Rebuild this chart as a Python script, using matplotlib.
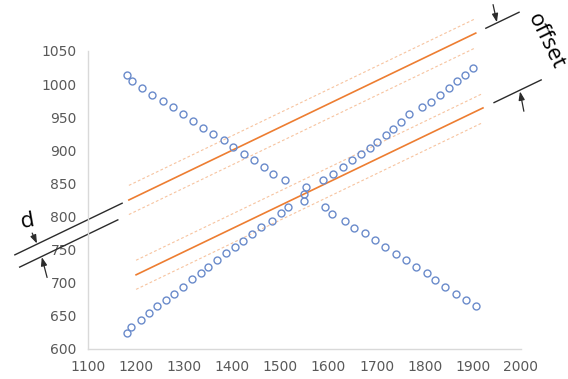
import matplotlib
matplotlib.use('Agg')
from matplotlib import pyplot as plt

# scatter: falling and rising runs
fall_x = [1181, 1192, 1212, 1233, 1256, 1277, 1297, 1318, 1339, 1360, 1383, 1401, 1424, 1445,
          1466, 1485, 1510, 1549, 1593, 1607, 1634, 1653, 1676, 1697, 1717, 1740, 1761, 1782,
          1805, 1821, 1842, 1865, 1886, 1907]
fall_y = [1014, 1005, 994, 984, 975, 965, 955, 944, 934, 925, 916, 905, 895, 885,
          875, 864, 855, 834, 815, 804, 793, 783, 775, 765, 754, 744, 734, 724,
          715, 704, 694, 683, 674, 665]

rise_x = [1181, 1189, 1210, 1227, 1243, 1262, 1279, 1298, 1316, 1335, 1350, 1368, 1387, 1406,
          1422, 1441, 1460, 1483, 1501, 1516, 1549, 1553, 1588, 1609, 1630, 1649, 1667, 1686,
          1701, 1719, 1734, 1751, 1767, 1794, 1813, 1832, 1850, 1867, 1884, 1900]
rise_y = [624, 633, 644, 654, 665, 674, 683, 694, 706, 715, 724, 734, 745, 754,
          763, 774, 784, 793, 805, 815, 824, 845, 855, 864, 875, 885, 895, 904,
          913, 923, 932, 943, 955, 965, 973, 984, 994, 1005, 1014, 1024]

# two bands: centre line end points and half width
upper_x = [1185, 1906]
upper_y = [825, 1077]
lower_x = [1200, 1921]
lower_y = [712, 964]
half_width = 22

x_ticks = [1100, 1200, 1300, 1400, 1500, 1600, 1700, 1800, 1900, 2000]
y_ticks = [600, 650, 700, 750, 800, 850, 900, 950, 1000, 1050]

slope = (upper_y[1] - upper_y[0]) / (upper_x[1] - upper_x[0])


def on_line(x, x0, y0, shift=0):
    return y0 + (x - x0) * slope + shift


fig = plt.figure(figsize=(5.68, 3.79), dpi=100)
ax = fig.add_axes([0.1549, 0.0792, 0.7623, 0.7863])

orange = '#ed7d31'
light = '#f7c4a0'
for bx, by in [(upper_x, upper_y), (lower_x, lower_y)]:
    ax.plot(bx, by, color=orange, lw=1.2, clip_on=False, zorder=2)
    for s in (half_width, -half_width):
        ax.plot(bx, [v + s for v in by], color=light, lw=0.8, ls=(0, (2.5, 2)),
                clip_on=False, zorder=2)

ax.plot(fall_x, fall_y, 'o', ms=5, mfc='none', mec='#6a8bcb', mew=1.0, zorder=3)
ax.plot(rise_x, rise_y, 'o', ms=5, mfc='none', mec='#6a8bcb', mew=1.0, zorder=3)

# dimension marks: d (band width) on the left, offset on the right
black = '#2b2b2b'
dx = [948, 1171]
ax.plot(dx, [on_line(v, upper_x[0], upper_y[0]) for v in dx], color=black, lw=1.0, clip_on=False)
dx2 = [958, 1162]
ax.plot(dx2, [on_line(v, upper_x[0], upper_y[0], -half_width) for v in dx2],
        color=black, lw=1.0, clip_on=False)
ox = [1927, 1996]
ax.plot(ox, [on_line(v, upper_x[0], upper_y[0]) for v in ox], color=black, lw=1.0, clip_on=False)
ox2 = [1944, 2042]
ax.plot(ox2, [on_line(v, lower_x[0], lower_y[0]) for v in ox2], color=black, lw=1.0, clip_on=False)

arrow = dict(arrowstyle='-|>,head_length=0.5,head_width=0.18', color=black, lw=0.9,
             shrinkA=0, shrinkB=0)
ax.annotate('', xy=(994, on_line(994, upper_x[0], upper_y[0]) + 1), xytext=(984, 775),
            arrowprops=arrow, annotation_clip=False)
ax.annotate('', xy=(1004, on_line(1004, upper_x[0], upper_y[0], -half_width) - 1),
            xytext=(1015, 708), arrowprops=arrow, annotation_clip=False)
ax.annotate('', xy=(1950, on_line(1950, upper_x[0], upper_y[0]) + 1), xytext=(1942, 1120),
            arrowprops=arrow, annotation_clip=False)
ax.annotate('', xy=(1998, on_line(1998, lower_x[0], lower_y[0]) - 2), xytext=(2006, 959),
            arrowprops=arrow, annotation_clip=False)

ax.text(975, 793, 'd', fontsize=16, family=['Open Sans', 'DejaVu Sans'], color='black',
        rotation=10, ha='center', va='center', clip_on=False)
ax.text(2052, 1064, 'offset', fontsize=16, family=['Open Sans', 'DejaVu Sans'], color='black',
        rotation=-64, ha='center', va='center', clip_on=False)

ax.set_xlim(1100, 2000)
ax.set_ylim(600, 1050)
ax.set_xticks(x_ticks)
ax.set_yticks(y_ticks)
for side in ['top', 'right']:
    ax.spines[side].set_visible(False)
for side in ['left', 'bottom']:
    ax.spines[side].set_color('#d9d9d9')
    ax.spines[side].set_linewidth(1.0)
ax.tick_params(length=0, pad=8, colors='#595959', labelsize=10)
for lab in ax.get_xticklabels() + ax.get_yticklabels():
    lab.set_family(['Liberation Sans Narrow', 'DejaVu Sans'])

fig.savefig('out.png', dpi=100)
